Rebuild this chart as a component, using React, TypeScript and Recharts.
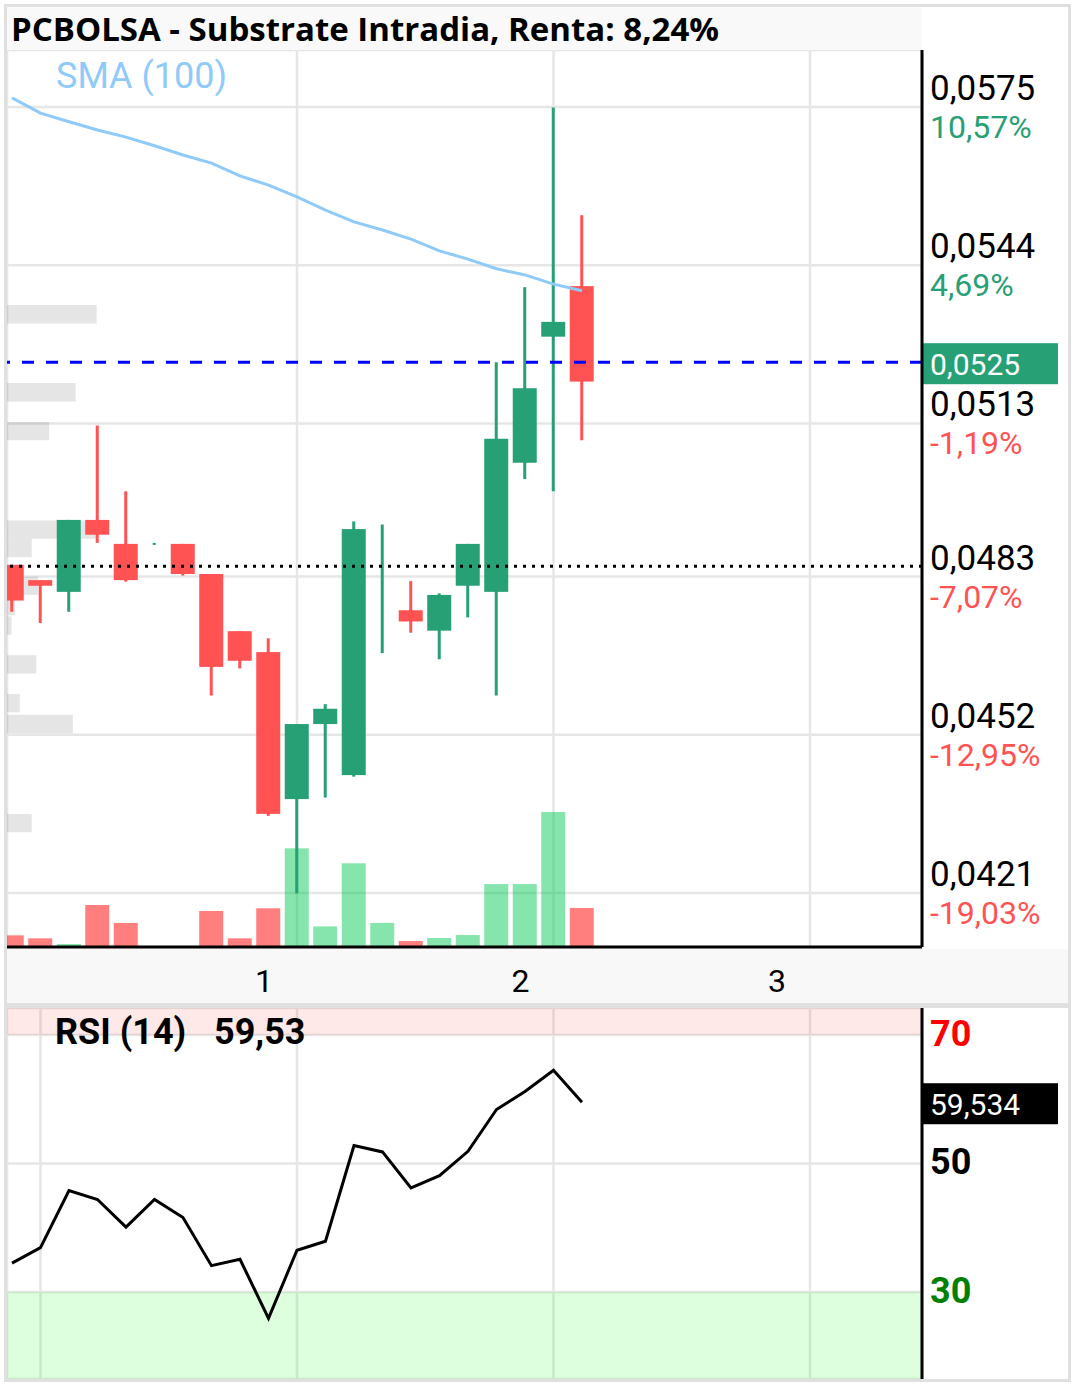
import React from 'react';
import {
  ComposedChart,
  Bar,
  Line,
  XAxis,
  YAxis,
  CartesianGrid,
  ReferenceLine,
  ReferenceArea,
} from 'recharts';

// candles
const opens = [0.04853, 0.04823, 0.048, 0.04941, 0.04894, 0.04894, 0.04894, 0.04835, 0.04723, 0.04682, 0.04394, 0.04541, 0.04441, 0.049, 0.04764, 0.04724, 0.04812, 0.048, 0.05053, 0.053, 0.05399];
const highs = [0.04853, 0.04823, 0.04941, 0.05126, 0.04997, 0.04896, 0.04894, 0.04835, 0.04723, 0.04709, 0.04541, 0.0458, 0.04938, 0.04932, 0.04821, 0.04797, 0.04894, 0.0525, 0.05397, 0.05749, 0.05538];
const lows = [0.04761, 0.04739, 0.04761, 0.04896, 0.0482, 0.04892, 0.04832, 0.04597, 0.0465, 0.04361, 0.04209, 0.04397, 0.04438, 0.0468, 0.0472, 0.04668, 0.0475, 0.04597, 0.05021, 0.04997, 0.05097];
const closes = [0.04783, 0.04812, 0.04941, 0.04912, 0.04823, 0.04894, 0.04835, 0.04653, 0.04665, 0.04365, 0.04541, 0.04571, 0.04923, 0.049, 0.04742, 0.04794, 0.04894, 0.051, 0.05199, 0.05329, 0.05212];
const volumes = [7800, 5800, 2000, 28100, 16100, 0, 0, 24100, 5800, 25900, 66000, 13800, 56000, 16100, 4000, 6000, 8000, 42100, 42100, 90300, 26100];
const sma100 = [0.05768, 0.05738, 0.05721, 0.05705, 0.05691, 0.05674, 0.05656, 0.0564, 0.05615, 0.05597, 0.05574, 0.05548, 0.05525, 0.05509, 0.05491, 0.05468, 0.05452, 0.05433, 0.05421, 0.05403, 0.0539];
const rsi14 = [34.5, 36.9, 45.8, 44.4, 40.1, 44.4, 41.6, 34.1, 35.1, 25.9, 36.5, 37.9, 52.8, 51.8, 46.2, 48.1, 51.9, 58.4, 61.2, 64.5, 59.534];

// price axis
const priceTicks = [0.0575, 0.0544, 0.0513, 0.0483, 0.0452, 0.0421];
const pctLabels = ['10,57%', '4,69%', '-1,19%', '-7,07%', '-12,95%', '-19,03%'];
const lastPrice = 0.0525;
const prevClose = 0.0485;

// sessions
const dayTicks = [10, 19, 28];
const dayLabels = ['1', '2', '3'];
const rsiGridTicks = [1, 10, 19, 28];
const rsiTicks = [30, 50, 70];

// volume profile
const profilePrices = [0.05344, 0.05191, 0.05115, 0.04922, 0.04886, 0.04812, 0.04772, 0.04734, 0.04658, 0.04582, 0.04541, 0.04347];
const profileVolumes = [98, 75, 46, 98, 27, 34, 9, 5, 32, 14, 72, 27];
const profileStep = 0.00036;

const GREEN = '#26A074';
const RED = '#FF5252';
const GRID = '#E6E6E6';

const data = opens.map((o, i) => ({
  i,
  open: o,
  high: highs[i],
  low: lows[i],
  close: closes[i],
  vol: volumes[i],
  sma: sma100[i],
  rsi: rsi14[i],
}));

const fmt = (v: number, d: number) => v.toFixed(d).replace('.', ',');

const Candle = (props: any) => {
  const { x, y, width, height, payload } = props;
  const top = Math.min(y, y + height);
  const h = Math.abs(height);
  const k = payload.high > payload.low ? h / (payload.high - payload.low) : 0;
  const cx = x + width / 2;
  const color = payload.close >= payload.open ? GREEN : RED;
  const bodyTop = top + (payload.high - Math.max(payload.open, payload.close)) * k;
  const bodyH = Math.abs(payload.open - payload.close) * k;
  return (
    <g>
      <line x1={cx} x2={cx} y1={top} y2={top + h} stroke={color} strokeWidth={3} />
      {bodyH > 0 && <rect x={cx - 12} y={bodyTop} width={24} height={bodyH} fill={color} />}
    </g>
  );
};

const VolBar = (props: any) => {
  const { x, y, width, height, payload } = props;
  if (!height) return <g />;
  const cx = x + width / 2;
  const up = payload.close >= payload.open;
  return (
    <rect
      x={cx - 12}
      y={Math.min(y, y + height)}
      width={24}
      height={Math.abs(height)}
      fill={up ? '#00C853' : '#FF0000'}
      fillOpacity={up ? 0.48 : 0.5}
    />
  );
};

const PriceTick = (props: any) => {
  const { x, y, payload } = props;
  const pct = pctLabels[priceTicks.indexOf(payload.value)] || '';
  return (
    <g fontFamily="Roboto">
      <text x={x} y={y - 7} fontSize={35} fill="#000">{fmt(payload.value, 4)}</text>
      <text x={x} y={y + 31} fontSize={32} fill={pct.startsWith('-') ? RED : GREEN}>{pct}</text>
    </g>
  );
};

const DayTick = (props: any) => {
  const { x, y, payload } = props;
  return (
    <text x={x - 33} y={y + 37} fontSize={32} fontFamily="Roboto" fill="#000" textAnchor="middle">
      {dayLabels[dayTicks.indexOf(payload.value)]}
    </text>
  );
};

const RsiTick = (props: any) => {
  const { x, y, payload } = props;
  const color = payload.value >= 70 ? '#FF0000' : payload.value <= 30 ? '#008000' : '#000';
  return (
    <text x={x} y={y + 11} fontSize={36} fontWeight="bold" fontFamily="Roboto" fill={color}>
      {payload.value}
    </text>
  );
};

const ValueTag = (props: any) => {
  const { viewBox, text, fill, up, down } = props;
  if (!viewBox) return null;
  const x0 = viewBox.x + viewBox.width - 1;
  return (
    <g>
      <rect x={x0} y={viewBox.y - up} width={137} height={up + down} fill={fill} />
      <text x={x0 + 9} y={viewBox.y + 13} fontSize={30} fontFamily="Roboto" fill="#fff">{text}</text>
    </g>
  );
};

const xDomain: [number, number] = [-0.175, 31.93];

export default function App() {
  return (
    <div style={{ position: 'absolute', left: 0, top: 0, width: 1076, height: 1385, background: '#fff', overflow: 'hidden' }}>
      <div style={{ position: 'absolute', left: 4, top: 4, width: 1067, height: 1378, border: '3px solid #E0E0E0', boxSizing: 'border-box' }} />
      <div
        style={{
          position: 'absolute', left: 7, top: 7, width: 915, height: 43, background: '#F9F9F9',
          fontFamily: '"Open Sans"', fontWeight: 700, fontSize: 33, lineHeight: '43px', paddingLeft: 4, boxSizing: 'border-box', color: '#000', whiteSpace: 'nowrap',
        }}
      >
        PCBOLSA - Substrate Intradia, Renta: 8,24%
      </div>
      <div style={{ position: 'absolute', left: 7, top: 949, width: 1061, height: 54, background: '#F8F8F8' }} />
      <div style={{ position: 'absolute', left: 7, top: 1003, width: 1061, height: 5, background: '#E0E0E0' }} />

      <div style={{ position: 'absolute', left: 7, top: 50 }}>
        <ComposedChart width={1061} height={953} data={data} margin={{ top: 0, right: 0, bottom: 0, left: 0 }}>
          <CartesianGrid xAxisId="t" yAxisId="price" stroke={GRID} strokeWidth={2.5} />
          <XAxis
            xAxisId="t" dataKey="i" type="number" domain={xDomain} allowDataOverflow ticks={dayTicks} interval={0}
            height={56} axisLine={{ stroke: '#000', strokeWidth: 3 }} tickLine={false} tick={<DayTick />}
          />
          <XAxis xAxisId="tv" dataKey="i" type="number" domain={xDomain} allowDataOverflow hide height={0} orientation="top" />
          <XAxis xAxisId="prof" dataKey="i" type="number" domain={[0, 1000]} allowDataOverflow hide height={0} orientation="top" />
          <YAxis
            yAxisId="price" orientation="right" width={146} domain={[0.041042, 0.0586168]} allowDataOverflow
            ticks={priceTicks} interval={0} axisLine={{ stroke: '#000', strokeWidth: 3 }} tickLine={false} tick={<PriceTick />}
          />
          <YAxis yAxisId="vol" hide width={0} domain={[0, 600000]} allowDataOverflow />
          {profilePrices.map((p, k) => (
            <ReferenceArea
              key={k} xAxisId="prof" yAxisId="price" x1={0} x2={profileVolumes[k]}
              y1={p - profileStep / 2} y2={p + profileStep / 2} fill="#000" fillOpacity={0.1} stroke="none"
            />
          ))}
          <ReferenceLine xAxisId="t" yAxisId="price" y={prevClose} stroke="#000" strokeWidth={3} strokeDasharray="3 6" />
          <Bar xAxisId="tv" yAxisId="vol" dataKey="vol" barSize={24} shape={<VolBar />} isAnimationActive={false} />
          <Bar
            xAxisId="t" yAxisId="price" dataKey={(d: any) => [d.low, d.high]} barSize={24}
            shape={<Candle />} isAnimationActive={false}
          />
          <Line xAxisId="t" yAxisId="price" dataKey="sma" stroke="#90CAF9" strokeWidth={3} dot={false} activeDot={false} isAnimationActive={false} />
          <ReferenceLine
            xAxisId="t" yAxisId="price" y={lastPrice} stroke="#0000FF" strokeWidth={3} strokeDasharray="12 12"
            label={<ValueTag text={fmt(lastPrice, 4)} fill={GREEN} up={19} down={22} />}
          />
        </ComposedChart>
      </div>
      <div style={{ position: 'absolute', left: 56, top: 55, fontFamily: 'Roboto', fontSize: 36, color: '#90CAF9', whiteSpace: 'nowrap' }}>
        SMA (100)
      </div>

      <div style={{ position: 'absolute', left: 7, top: 1008 }}>
        <ComposedChart width={1061} height={371} data={data} margin={{ top: 0, right: 0, bottom: 0, left: 0 }}>
          <ReferenceArea xAxisId="t" yAxisId="r" y1={70} y2={74.2} fill="#FF0000" fillOpacity={0.09} stroke="none" ifOverflow="hidden" />
          <ReferenceArea xAxisId="t" yAxisId="r" y1={16.46} y2={30} fill="#00FF00" fillOpacity={0.133} stroke="none" ifOverflow="hidden" />
          <CartesianGrid xAxisId="t" yAxisId="r" stroke={GRID} strokeWidth={2.5} />
          <XAxis xAxisId="t" dataKey="i" type="number" domain={xDomain} allowDataOverflow ticks={rsiGridTicks} interval={0} hide height={0} />
          <YAxis
            yAxisId="r" orientation="right" width={146} domain={[16.46, 74.2]} allowDataOverflow ticks={rsiTicks} interval={0}
            axisLine={{ stroke: '#000', strokeWidth: 3 }} tickLine={false} tick={<RsiTick />}
          />
          <Line xAxisId="t" yAxisId="r" dataKey="rsi" stroke="#000" strokeWidth={3} dot={false} activeDot={false} isAnimationActive={false} />
          <ReferenceLine
            xAxisId="t" yAxisId="r" y={rsi14[rsi14.length - 1]} stroke="none"
            label={<ValueTag text={fmt(rsi14[rsi14.length - 1], 3)} fill="#000" up={19} down={22} />}
          />
        </ComposedChart>
      </div>
      <div style={{ position: 'absolute', left: 55, top: 1011, fontFamily: 'Roboto', fontWeight: 700, fontSize: 36, color: '#000', whiteSpace: 'nowrap' }}>
        RSI (14)
      </div>
      <div style={{ position: 'absolute', left: 214, top: 1011, fontFamily: 'Roboto', fontWeight: 700, fontSize: 36, color: '#000', whiteSpace: 'nowrap' }}>
        {fmt(rsi14[rsi14.length - 1], 2)}
      </div>
    </div>
  );
}
